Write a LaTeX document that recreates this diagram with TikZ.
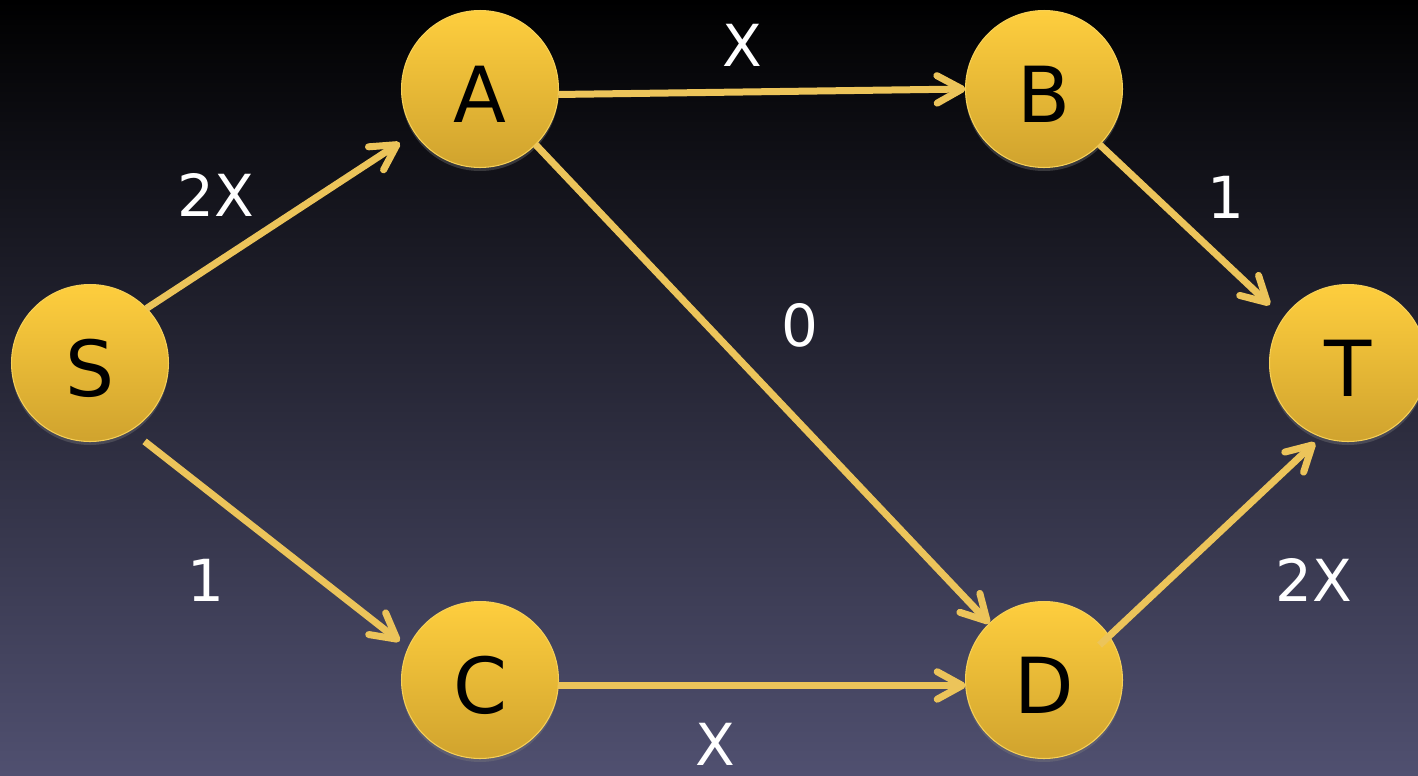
\documentclass[tikz,border=0pt]{standalone}
\usepackage{fontspec}
\setmainfont{DejaVu Sans}
\usepackage{tikz}
\usetikzlibrary{arrows.meta,shadows}
\definecolor{vtop}{RGB}{254,206,62}
\definecolor{vbot}{RGB}{208,163,46}
\definecolor{vrim}{RGB}{246,208,88}
\definecolor{edgecol}{RGB}{236,196,90}
\definecolor{bgbot}{RGB}{80,80,112}
\newcommand*\vertdiam{3.14cm}
\newcommand*\edgewd  {0.14cm}
\tikzset{
    vertex/.style = {circle, draw=vrim, line width=0.6pt,
                    top color=vtop, bottom color=vbot,
                    minimum size=\vertdiam, inner sep=0pt, outer sep=0pt,
                    text=black, font=\fontsize{44}{50}\selectfont,
                    text height=1.35cm, text depth=0pt,
                    drop shadow={opacity=0.35, shadow xshift=0pt, shadow yshift=-2pt}},
    edge/.style   = {draw=edgecol, line width=\edgewd,
                    -{Straight Barb[length=0.5cm, width=0.55cm, round]}},
    weight/.style = {text=white, font=\fontsize{33}{40}\selectfont,
                    inner sep=0pt, outer sep=0pt},
  }

\begin{document}
\begin{tikzpicture}[x=0.02cm, y=-0.02cm]
        % Background with its vertical gradient
        \shade[top color=black, bottom color=bgbot] (0,0) rectangle (1418,775);
        \useasboundingbox (0,0) rectangle (1418,775);

        % Vertices
        \node[vertex] (S) at (90,363)   {S};
        \node[vertex] (A) at (480,89)   {A};
        \node[vertex] (B) at (1044,89)  {B};
        \node[vertex] (C) at (480,680)  {C};
        \node[vertex] (D) at (1044,680) {D};
        \node[vertex] (T) at (1348,363) {T};

        % Edges: attach at angle anchors of the vertices
        \draw[edge, shorten >=0.36cm] (S.44) -- (A.214);
        \draw[edge, shorten <=0.36cm, shorten >=0.22cm] (S.-59) -- (C.156);
        \draw[edge] (A.-4) -- (B.180);
        \draw[edge] (A.-45) -- (D.134);
        \draw[edge] (C.-4) -- (D.184);
        \draw[edge, shorten >=0.38cm] (B.-45) -- (T.145);
        \draw[edge, shorten <=-0.26cm, shorten >=0.17cm] (D.34) -- (T.250);

        % Weights: placed next to their edges
        \foreach \w/\x/\y [count=\i from 1] in {X/742/45, 2X/216/195, 0/800/325,
                1/1226/197, 1/206/580, 2X/1314/580, X/715/744} {
            \node[weight] (w\i) at (\x,\y) {\w};
        }
    \end{tikzpicture}
\end{document}
